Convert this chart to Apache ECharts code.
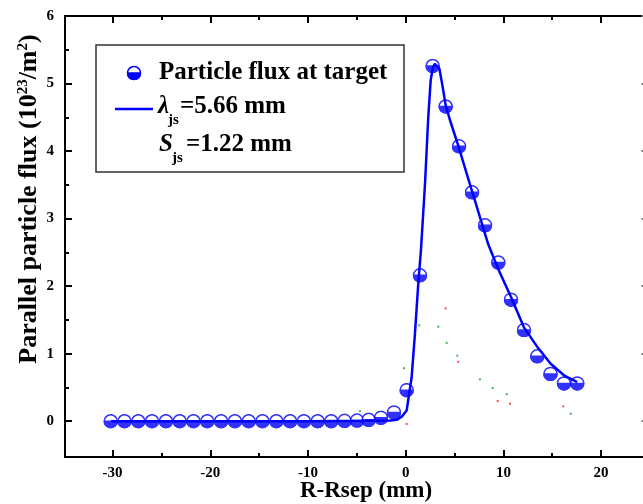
<!DOCTYPE html>
<html>
<head>
<meta charset="utf-8">
<script src="https://cdn.jsdelivr.net/npm/echarts@6/dist/echarts.min.js"></script>
<style>
  html, body { margin: 0; padding: 0; background: #fff; }
  #chart { width: 643px; height: 504px; }
</style>
</head>
<body>
<div id="chart"></div>
<script>
// Measured parallel particle flux at the target (R-Rsep in mm, flux in 1e23 /m^2)
const fluxX = [-30.19, -28.78, -27.37, -25.96, -24.54, -23.13, -21.72, -20.31, -18.89, -17.48,
               -16.07, -14.66, -13.24, -11.83, -10.42, -9.01, -7.62, -6.26, -4.98, -3.79,
               -2.53, -1.20, 0.10, 1.46, 2.76, 4.09, 5.46, 6.79, 8.12, 9.48,
               10.78, 12.11, 13.47, 14.82, 16.20, 17.56];
const fluxY = [0, 0, 0, 0, 0, 0, 0, 0, 0, 0,
               0, 0, 0, 0, 0, 0, 0, 0.005, 0.01, 0.02,
               0.05, 0.13, 0.46, 2.16, 5.26, 4.66, 4.07, 3.39, 2.90, 2.35,
               1.80, 1.35, 0.96, 0.70, 0.56, 0.56];

// Fitted profile (lambda_js = 5.66 mm, S_js = 1.22 mm)
const fitX = [-30.19, -20, -10, -4, -1.6, -0.92, -0.38, 0.10, 0.61, 0.95,
              1.29, 1.57, 1.98, 2.31, 2.56, 2.79, 2.98, 3.17, 3.45, 3.75,
              4.09, 4.53, 5.38, 6.76, 8.45, 9.48, 10.78, 12.10, 13.47, 14.84,
              16.20, 17.56];
const fitY = [0, 0, 0, 0.005, 0.01, 0.02, 0.07, 0.16, 0.65, 1.30,
              2.04, 2.55, 3.52, 4.50, 5.05, 5.24, 5.29, 5.30, 5.22, 4.98,
              4.68, 4.46, 4.08, 3.42, 2.62, 2.25, 1.84, 1.39, 1.10, 0.85,
              0.68, 0.58];

// Faint secondary markers
const greenX = [-7.57, -4.68, -0.17, 1.39, 3.34, 4.20, 5.28, 7.60, 8.90, 10.34, 16.89];
const greenY = [0.074, 0.148, 0.785, 1.42, 1.40, 1.16, 0.97, 0.62, 0.49, 0.40, 0.11];
const redX = [0.10, 4.09, 5.38, 9.42, 10.68, 16.13];
const redY = [-0.04, 1.67, 0.88, 0.30, 0.26, 0.22];

// Tick positions
const xMajorTicks = [-30, -20, -10, 0, 10, 20];
const xMinorTicks = [-25, -15, -5, 5, 15];
const yMajorTicks = [0, 1, 2, 3, 4, 5, 6];
const yMinorTicks = [0.5, 1.5, 2.5, 3.5, 4.5, 5.5];

// Visible window of the axes (the frame continues past the right edge)
const X_MIN = -34.87, X_MAX = 24.29, Y_MIN = -0.53, Y_MAX = 6;
const SERIF = '"Liberation Serif", "Times New Roman", serif';
const BLUE = '#0000ff';

// Half-filled circle marker
const markerSvg = "<svg xmlns='http://www.w3.org/2000/svg' width='30' height='30' viewBox='0 0 30 30'>" +
  "<circle cx='15' cy='15' r='13' fill='white' stroke='#0000ff' stroke-width='3'/>" +
  "<path d='M2 15 A13 13 0 0 0 28 15 Z' fill='#0000ff' stroke='#0000ff' stroke-width='3'/>" +
  "</svg>";
const markerUrl = 'data:image/svg+xml;utf8,' + encodeURIComponent(markerSvg);

function pairs(xs, ys) { return xs.map((x, i) => [x, ys[i]]); }

function xAxisDef(position, ticks, len, withLabels) {
  return {
    type: 'value', min: X_MIN, max: X_MAX, position: position,
    axisLine: { show: true, onZero: false, lineStyle: { color: '#000', width: 2 } },
    axisTick: { show: true, inside: true, length: len, customValues: ticks,
                lineStyle: { color: '#000', width: 2 } },
    axisLabel: { show: withLabels, customValues: ticks, margin: 9,
                 fontFamily: SERIF, fontWeight: 'bold', fontSize: 15, color: '#000' },
    splitLine: { show: false }
  };
}
function yAxisDef(position, ticks, len, withLabels, lineShown, color) {
  return {
    type: 'value', min: Y_MIN, max: Y_MAX, position: position,
    axisLine: { show: lineShown, onZero: false, lineStyle: { color: '#000', width: 2 } },
    axisTick: { show: true, inside: true, length: len, customValues: ticks,
                lineStyle: { color: color, width: 2 } },
    axisLabel: { show: withLabels, customValues: ticks, margin: 11,
                 fontFamily: SERIF, fontWeight: 'bold', fontSize: 15, color: '#000' },
    splitLine: { show: false }
  };
}

const chart = echarts.init(document.getElementById('chart'), null, { renderer: 'canvas' });

const option = {
  animation: false,
  backgroundColor: '#fff',
  grid: { left: 65, right: 0, top: 16, bottom: 47, containLabel: false },
  xAxis: [
    xAxisDef('bottom', xMajorTicks, 7, true),
    xAxisDef('bottom', xMinorTicks, 4, false),
    xAxisDef('top', xMajorTicks, 7, false),
    xAxisDef('top', xMinorTicks, 4, false)
  ],
  yAxis: [
    yAxisDef('left', yMajorTicks, 7, true, true, '#000'),
    yAxisDef('left', yMinorTicks, 4, false, true, '#000'),
    yAxisDef('right', yMajorTicks, 1.5, false, false, '#777')
  ],
  series: [
    {
      type: 'scatter', name: 'green', silent: true, symbol: 'rect', symbolSize: 2,
      itemStyle: { color: '#2a9a2a' }, data: pairs(greenX, greenY), z: 1
    },
    {
      type: 'scatter', name: 'red', silent: true, symbol: 'rect', symbolSize: 2,
      itemStyle: { color: '#ff2020' }, data: pairs(redX, redY), z: 1
    },
    {
      type: 'scatter', name: 'Particle flux at target',
      symbol: 'image://' + markerUrl, symbolSize: 15,
      data: pairs(fluxX, fluxY), z: 2
    },
    {
      type: 'line', name: 'fit', showSymbol: false, smooth: false,
      lineStyle: { color: BLUE, width: 2.5 },
      data: pairs(fitX, fitY), z: 3
    }
  ],
  graphic: [
    // axis titles
    {
      type: 'text', x: 366, y: 491, z: 50,
      style: { text: 'R-Rsep (mm)', font: 'bold 23px ' + SERIF, fill: '#000',
               align: 'center', verticalAlign: 'middle' }
    },
    {
      type: 'text', x: 29, y: 199, rotation: Math.PI / 2, z: 50,
      style: {
        text: '{m|Parallel particle flux (10}{s|23}{m|/m}{s|2}{m|)}',
        align: 'center', verticalAlign: 'middle',
        rich: {
          m: { fontFamily: SERIF, fontWeight: 'bold', fontSize: 26, fill: '#000', verticalAlign: 'bottom' },
          s: { fontFamily: SERIF, fontWeight: 'bold', fontSize: 15, fill: '#000', verticalAlign: 'bottom',
               padding: [0, 0, 11, 0] }
        }
      }
    },
    // legend box
    {
      type: 'rect', z: 100,
      shape: { x: 96, y: 45, width: 308, height: 127 },
      style: { fill: '#fff', stroke: '#333', lineWidth: 1.5 }
    },
    {
      type: 'image', z: 101,
      style: { image: markerUrl, x: 126.5, y: 65.5, width: 15, height: 15 }
    },
    {
      type: 'line', z: 101,
      shape: { x1: 115, y1: 109, x2: 153, y2: 109 },
      style: { stroke: BLUE, lineWidth: 2.5 }
    },
    {
      type: 'text', x: 159, y: 73, z: 101,
      style: { text: 'Particle flux at target', font: 'bold 25px ' + SERIF, fill: '#000',
               verticalAlign: 'middle' }
    },
    {
      type: 'text', x: 158, y: 106.5, z: 101,
      style: { text: 'λ', font: 'italic bold 25px ' + SERIF, fill: '#000', verticalAlign: 'middle' }
    },
    {
      type: 'text', x: 168, y: 120, z: 101,
      style: { text: 'js', font: 'bold 15px ' + SERIF, fill: '#000', verticalAlign: 'middle' }
    },
    {
      type: 'text', x: 180, y: 106.5, z: 101,
      style: { text: '=5.66 mm', font: 'bold 25px ' + SERIF, fill: '#000', verticalAlign: 'middle' }
    },
    {
      type: 'text', x: 159, y: 145, z: 101,
      style: { text: 'S', font: 'italic bold 25px ' + SERIF, fill: '#000', verticalAlign: 'middle' }
    },
    {
      type: 'text', x: 172, y: 158, z: 101,
      style: { text: 'js', font: 'bold 15px ' + SERIF, fill: '#000', verticalAlign: 'middle' }
    },
    {
      type: 'text', x: 186, y: 145, z: 101,
      style: { text: '=1.22 mm', font: 'bold 25px ' + SERIF, fill: '#000', verticalAlign: 'middle' }
    }
  ]
};

chart.setOption(option);
</script>
</body>
</html>
